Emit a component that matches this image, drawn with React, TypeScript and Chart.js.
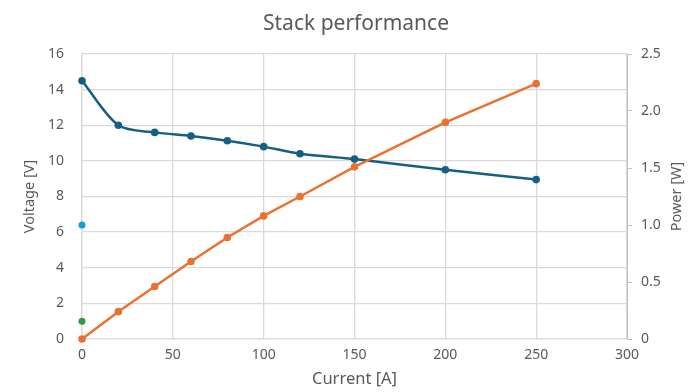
import React, { useEffect, useRef } from "react";
import { Chart, registerables } from "chart.js";

Chart.register(...registerables);

const currents = [0, 20, 40, 60, 80, 100, 120, 150, 200, 250];
const voltages = [14.5, 12.0, 11.6, 11.4, 11.13, 10.8, 10.4, 10.1, 9.5, 8.95];
const powers = [0, 0.24, 0.46, 0.68, 0.89, 1.08, 1.25, 1.51, 1.9, 2.24];
const extraBluePoint = { x: 0, y: 6.4 };
const extraGreenPoint = { x: 0, y: 1.0 };

const xTicks = [0, 50, 100, 150, 200, 250, 300];
const voltageTicks = [0, 2, 4, 6, 8, 10, 12, 14, 16];
const powerTicks = [0, 0.5, 1, 1.5, 2, 2.5];

const titleText = "Stack performance";
const xTitle = "Current [A]";
const yLeftTitle = "Voltage [V]";
const yRightTitle = "Power [W]";

const TEXT = "#595959";
const GRID = "#d9d9d9";
const FONT = "'Noto Sans', 'Open Sans', sans-serif";

const textPlugin = {
  id: "customTexts",
  afterDraw(chart: any) {
    const ctx = chart.ctx;
    const a = chart.chartArea;
    const cx = (a.left + a.right) / 2;
    const cy = (a.top + a.bottom) / 2;
    ctx.save();
    ctx.fillStyle = TEXT;
    ctx.textAlign = "center";
    ctx.textBaseline = "middle";
    ctx.font = `21px ${FONT}`;
    ctx.fillText(titleText, 356, 24);
    ctx.font = `16.5px ${FONT}`;
    ctx.fillText(xTitle, cx, 379);
    ctx.font = `14.5px ${FONT}`;
    ctx.save();
    ctx.translate(30, cy);
    ctx.rotate(-Math.PI / 2);
    ctx.fillText(yLeftTitle, 0, 0);
    ctx.restore();
    ctx.save();
    ctx.translate(677, cy);
    ctx.rotate(-Math.PI / 2);
    ctx.fillText(yRightTitle, 0, 0);
    ctx.restore();
    ctx.restore();
  },
};

export default function App() {
  const ref = useRef<HTMLCanvasElement | null>(null);
  useEffect(() => {
    if (!ref.current) return;
    const tickFont = { family: FONT, size: 14 };
    const chart = new Chart(ref.current, {
      type: "line",
      data: {
        datasets: [
          {
            label: "Power",
            data: currents.map((c, i) => ({ x: c, y: powers[i] })),
            yAxisID: "y1",
            borderColor: "#E97132",
            backgroundColor: "#E97132",
            borderWidth: 2.5,
            pointRadius: 3.8,
            pointBorderWidth: 0,
            tension: 0,
            clip: false as any,
          },
          {
            label: "Voltage",
            data: currents.map((c, i) => ({ x: c, y: voltages[i] })),
            yAxisID: "y",
            borderColor: "#156082",
            backgroundColor: "#156082",
            borderWidth: 2.5,
            pointRadius: 3.8,
            pointBorderWidth: 0,
            tension: 0.3,
            clip: false as any,
          },
          {
            label: "Extra 1",
            data: [extraBluePoint],
            yAxisID: "y",
            showLine: false,
            borderColor: "#0F9ED5",
            backgroundColor: "#0F9ED5",
            pointRadius: 3.5,
            pointBorderWidth: 0,
            clip: false as any,
          },
          {
            label: "Extra 2",
            data: [extraGreenPoint],
            yAxisID: "y",
            showLine: false,
            borderColor: "#2E9A38",
            backgroundColor: "#2E9A38",
            pointRadius: 3.5,
            pointBorderWidth: 0,
            clip: false as any,
          },
        ],
      },
      options: {
        animation: false,
        responsive: false,
        layout: { padding: { top: 54, left: 0, right: 0, bottom: 0 } },
        plugins: {
          legend: { display: false },
          title: { display: false },
          tooltip: { enabled: false },
        },
        scales: {
          x: {
            type: "linear",
            min: 0,
            max: 300,
            afterBuildTicks: (s: any) => {
              s.ticks = xTicks.map((v) => ({ value: v }));
            },
            afterFit: (s: any) => {
              s.height = 53;
            },
            grid: { color: GRID, drawTicks: false, lineWidth: 1.3 },
            border: { color: GRID, width: 1.3 },
            ticks: { color: TEXT, font: tickFont, padding: 8, maxRotation: 0 },
          },
          y: {
            type: "linear",
            position: "left",
            min: 0,
            max: 16,
            afterBuildTicks: (s: any) => {
              s.ticks = voltageTicks.map((v) => ({ value: v }));
            },
            afterFit: (s: any) => {
              s.width = 82;
            },
            grid: { color: GRID, drawTicks: false, lineWidth: 1.3 },
            border: { color: GRID, width: 1.3 },
            ticks: { color: TEXT, font: tickFont, padding: 18 },
          },
          y1: {
            type: "linear",
            position: "right",
            min: 0,
            max: 2.5,
            afterBuildTicks: (s: any) => {
              s.ticks = powerTicks.map((v) => ({ value: v }));
            },
            afterFit: (s: any) => {
              s.width = 68;
            },
            grid: {
              drawOnChartArea: false,
              drawTicks: true,
              tickLength: 5,
              tickColor: "#bfbfbf",
            },
            border: { color: "#bfbfbf", width: 1 },
            ticks: { color: TEXT, font: tickFont, padding: 9 },
          },
        },
      },
      plugins: [textPlugin],
    } as any);
    return () => chart.destroy();
  }, []);
  return (
    <div style={{ position: "fixed", left: 0, top: 0, width: 695, height: 392, background: "#fff" }}>
      <canvas ref={ref} width={695} height={392} style={{ display: "block" }} />
    </div>
  );
}
